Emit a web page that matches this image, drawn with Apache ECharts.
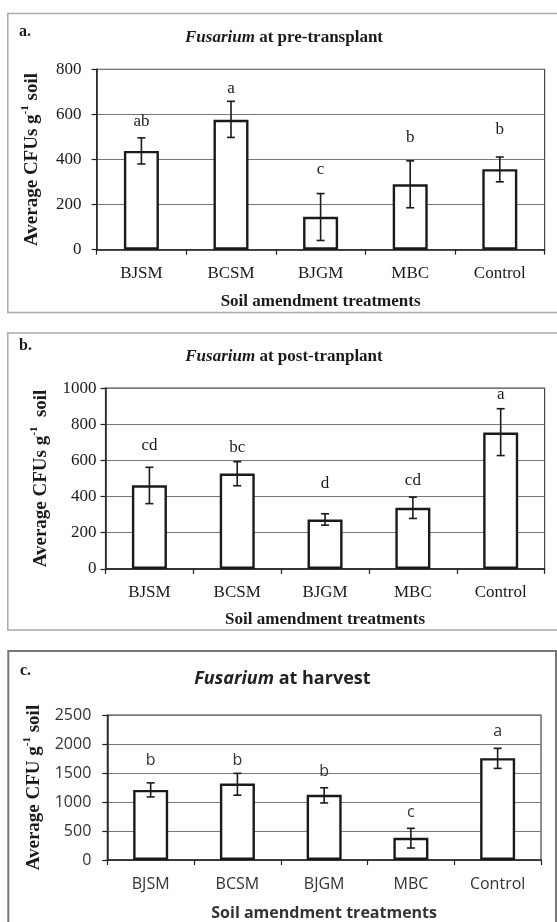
<!DOCTYPE html>
<html><head><meta charset="utf-8">
<script src="https://cdn.jsdelivr.net/npm/echarts@6/dist/echarts.min.js"></script>
<style>html,body{margin:0;padding:0;background:#fff}#c{width:557px;height:922px}</style>
</head><body><div id="c"></div>
<script>
const categories = ['BJSM', 'BCSM', 'BJGM', 'MBC', 'Control'];

const aMeans = [438, 576, 146, 290, 357];
const aHigh = [496, 658, 249, 394, 411];
const aLow = [380, 498, 41, 186, 301];
const aLetters = ['ab', 'a', 'c', 'b', 'b'];
const aLetterY = [567, 713, 354, 498, 532];

const bMeans = [462, 527, 273, 338, 754];
const bHigh = [562, 593, 305, 397, 886];
const bLow = [361, 460, 242, 279, 627];
const bLetters = ['cd', 'bc', 'd', 'cd', 'a'];
const bLetterY = [682, 672, 472, 491, 967];

const cMeans = [1210, 1320, 1125, 383, 1758];
const cHigh = [1332, 1496, 1247, 547, 1928];
const cLow = [1089, 1119, 985, 207, 1582];
const cLetters = ['b', 'b', 'b', 'c', 'a'];
const cLetterY = [1727, 1715, 1533, 815, 2220];

const SERIF = '"Liberation Serif", "Times New Roman", serif';
const SANS = '"Open Sans", "Liberation Sans", sans-serif';

const chart = echarts.init(document.getElementById('c'), null, {renderer: 'canvas'});

const panels = [
  {means: aMeans, high: aHigh, low: aLow, letters: aLetters, letterY: aLetterY, max: 800, interval: 200,
   grid: {left: 96.6, top: 69.3, right: 12.4, height: 180.4}, font: SERIF, color: '#1a1a1a',
   labelMargin: 15, xMargin: 15, xNameGap: 43, yNameGap: 55, yName: 'Average CFUs g', yNameTail: ' soil', fs: 17},
  {means: bMeans, high: bHigh, low: bLow, letters: bLetters, letterY: bLetterY, max: 1000, interval: 200,
   grid: {left: 105.5, top: 388.1, right: 12.4, height: 180.8}, font: SERIF, color: '#1a1a1a',
   labelMargin: 9, xMargin: 15, xNameGap: 42, yNameGap: 55, yName: 'Average CFUs g', yNameTail: '  soil', fs: 17},
  {means: cMeans, high: cHigh, low: cLow, letters: cLetters, letterY: cLetterY, max: 2500, interval: 500,
   grid: {left: 107.3, top: 715.2, right: 16, height: 146}, font: SANS, color: '#333',
   labelMargin: 16, xMargin: 16, xNameGap: 45, yNameGap: 59, yName: 'Average CFU g', yNameTail: ' soil', fs: 16}
];

const grids = [], xAxes = [], yAxes = [], series = [];
panels.forEach((p, i) => {
  grids.push(Object.assign({show: true, borderColor: '#444', borderWidth: 1.2, backgroundColor: 'transparent'}, p.grid));
  xAxes.push({
    type: 'category', gridIndex: i, data: categories,
    axisLine: {lineStyle: {color: '#222', width: 1.5}},
    axisTick: {show: true, length: 5, lineStyle: {color: '#222', width: 1.2}},
    axisLabel: {fontFamily: p.font, fontSize: p.fs, color: p.color, margin: p.xMargin},
    name: 'Soil amendment treatments', nameLocation: 'middle', nameGap: p.xNameGap,
    nameTextStyle: {fontFamily: p.font, fontSize: p.fs, fontWeight: 'bold', color: p.color}
  });
  yAxes.push({
    type: 'value', gridIndex: i, min: 0, max: p.max, interval: p.interval,
    axisLine: {show: true, lineStyle: {color: '#222', width: 1.5}},
    axisTick: {show: true, length: 5, lineStyle: {color: '#222', width: 1.2}},
    splitLine: {show: true, lineStyle: {color: '#777', width: 1.2}},
    axisLabel: {fontFamily: p.font, fontSize: p.fs, color: p.color, margin: p.labelMargin,
      formatter: v => String(v)},
    name: '{n|' + p.yName + '}{s|-1}{n|' + p.yNameTail + '}',
    nameLocation: 'middle', nameGap: p.yNameGap, nameRotate: 90,
    nameTextStyle: {
      rich: {
        n: {fontFamily: SERIF, fontSize: 19, fontWeight: 'bold', color: '#1a1a1a', lineHeight: 22, verticalAlign: 'bottom'},
        s: {fontFamily: SERIF, fontSize: 11, fontWeight: 'bold', color: '#1a1a1a', lineHeight: 22, verticalAlign: 'top'}
      }
    }
  });
  series.push({
    type: 'bar', xAxisIndex: i, yAxisIndex: i, data: p.means, barWidth: 35,
    itemStyle: {color: '#fff', borderColor: '#1a1a1a', borderWidth: 2.4},
    silent: true, z: 2
  });
  series.push({
    type: 'custom', xAxisIndex: i, yAxisIndex: i, z: 5, silent: true,
    data: p.means.map((m, k) => [k, p.low[k], p.high[k], p.letterY[k]]),
    renderItem: (params, api) => {
      const x = api.value(0);
      const lo = api.coord([x, api.value(1)]);
      const hi = api.coord([x, api.value(2)]);
      const lt = api.coord([x, api.value(3)]);
      const cap = 4;
      const st = {stroke: '#1a1a1a', lineWidth: 1.6};
      return {
        type: 'group', children: [
          {type: 'line', shape: {x1: lo[0], y1: lo[1], x2: hi[0], y2: hi[1]}, style: st},
          {type: 'line', shape: {x1: hi[0] - cap, y1: hi[1], x2: hi[0] + cap, y2: hi[1]}, style: st},
          {type: 'line', shape: {x1: lo[0] - cap, y1: lo[1], x2: lo[0] + cap, y2: lo[1]}, style: st},
          {type: 'text', x: lt[0], y: lt[1], style: {text: p.letters[params.dataIndex], fontFamily: p.font,
            fontSize: p.fs, fill: p.color, align: 'center', verticalAlign: 'middle'}}
        ]
      };
    }
  });
});

const graphic = [
  {type: 'rect', shape: {x: 7.8, y: 13.5, width: 560, height: 299}, style: {fill: 'none', stroke: '#aaa', lineWidth: 1.5}, silent: true},
  {type: 'rect', shape: {x: 7.8, y: 333, width: 560, height: 297}, style: {fill: 'none', stroke: '#aaa', lineWidth: 1.5}, silent: true},
  {type: 'rect', shape: {x: 8.3, y: 650.9, width: 547.7, height: 290}, style: {fill: 'none', stroke: '#777', lineWidth: 2}, silent: true},
  {type: 'text', x: 19, y: 32, style: {text: 'a.', fontFamily: SERIF, fontSize: 16, fontWeight: 'bold', fill: '#1a1a1a', verticalAlign: 'middle'}},
  {type: 'text', x: 19, y: 346, style: {text: 'b.', fontFamily: SERIF, fontSize: 16, fontWeight: 'bold', fill: '#1a1a1a', verticalAlign: 'middle'}},
  {type: 'text', x: 20, y: 671, style: {text: 'c.', fontFamily: SERIF, fontSize: 16, fontWeight: 'bold', fill: '#1a1a1a', verticalAlign: 'middle'}},
  {type: 'text', x: 284, y: 37.3, style: {
    text: '{i|Fusarium}{n| at pre-transplant}', align: 'center', verticalAlign: 'middle',
    rich: {i: {fontFamily: SERIF, fontSize: 17, fontWeight: 'bold', fontStyle: 'italic', fill: '#1a1a1a'},
           n: {fontFamily: SERIF, fontSize: 17, fontWeight: 'bold', fill: '#1a1a1a'}}}},
  {type: 'text', x: 284, y: 356.8, style: {
    text: '{i|Fusarium}{n| at post-tranplant}', align: 'center', verticalAlign: 'middle',
    rich: {i: {fontFamily: SERIF, fontSize: 17, fontWeight: 'bold', fontStyle: 'italic', fill: '#1a1a1a'},
           n: {fontFamily: SERIF, fontSize: 17, fontWeight: 'bold', fill: '#1a1a1a'}}}},
  {type: 'text', x: 282.4, y: 678.6, style: {
    text: '{i|Fusarium}{n| at harvest}', align: 'center', verticalAlign: 'middle',
    rich: {i: {fontFamily: SANS, fontSize: 18, fontWeight: 'bold', fontStyle: 'italic', fill: '#222'},
           n: {fontFamily: SANS, fontSize: 18, fontWeight: 'bold', fill: '#222'}}}}
];

chart.setOption({
  animation: false,
  backgroundColor: '#fff',
  grid: grids, xAxis: xAxes, yAxis: yAxes, series: series, graphic: graphic
});
</script></body></html>
